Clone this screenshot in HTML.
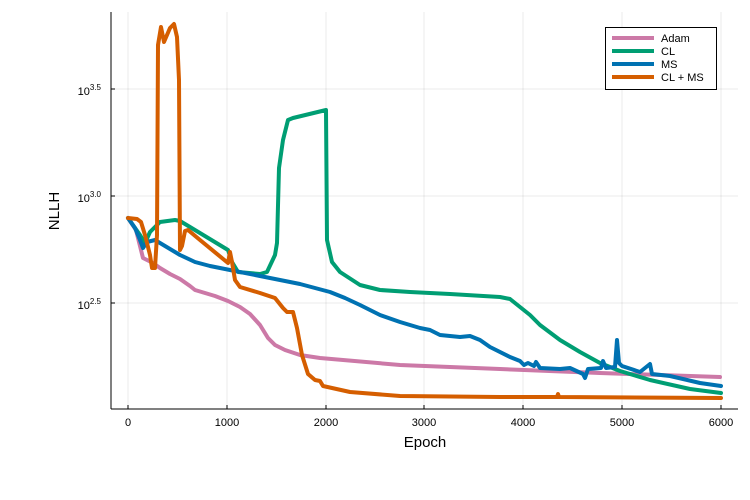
<!DOCTYPE html>
<html><head><style>body{margin:0;background:#fff}svg{display:block;font-family:"Liberation Sans","DejaVu Sans",sans-serif}</style></head><body>
<svg width="750" height="500" viewBox="0 0 750 500">
<g stroke="#000" stroke-opacity="0.08" stroke-width="1">
<line x1="128" y1="12" x2="128" y2="409"/><line x1="227" y1="12" x2="227" y2="409"/><line x1="326" y1="12" x2="326" y2="409"/><line x1="424" y1="12" x2="424" y2="409"/><line x1="523" y1="12" x2="523" y2="409"/><line x1="622" y1="12" x2="622" y2="409"/><line x1="721" y1="12" x2="721" y2="409"/>
<line x1="111" y1="89" x2="738" y2="89"/><line x1="111" y1="196" x2="738" y2="196"/><line x1="111" y1="303" x2="738" y2="303"/>
</g>
<g stroke="#000" stroke-width="1">
<line x1="111" y1="12" x2="111" y2="409"/><line x1="111" y1="409" x2="738" y2="409"/>
<line x1="111" y1="89" x2="115" y2="89"/><line x1="111" y1="196" x2="115" y2="196"/><line x1="111" y1="303" x2="115" y2="303"/>
<line x1="128" y1="409" x2="128" y2="405"/><line x1="227" y1="409" x2="227" y2="405"/><line x1="326" y1="409" x2="326" y2="405"/><line x1="424" y1="409" x2="424" y2="405"/><line x1="523" y1="409" x2="523" y2="405"/><line x1="622" y1="409" x2="622" y2="405"/><line x1="721" y1="409" x2="721" y2="405"/>
</g>
<g font-size="11" text-anchor="middle" fill="#000">
<text x="128" y="426">0</text><text x="227" y="426">1000</text><text x="326" y="426">2000</text><text x="424" y="426">3000</text><text x="523" y="426">4000</text><text x="622" y="426">5000</text><text x="721" y="426">6000</text>
</g>
<g font-size="11" text-anchor="end" fill="#000">
<text x="101" y="95">10<tspan font-size="8" dy="-5">3.5</tspan></text>
<text x="101" y="202">10<tspan font-size="8" dy="-5">3.0</tspan></text>
<text x="101" y="309">10<tspan font-size="8" dy="-5">2.5</tspan></text>
</g>
<text x="425" y="447" font-size="15" text-anchor="middle">Epoch</text>
<text x="59" y="211" font-size="15" text-anchor="middle" transform="rotate(-90 59 211)">NLLH</text>
<g fill="none" stroke-width="4" stroke-linejoin="round" stroke-linecap="round">
<polyline stroke="#cc79a7" points="128,218 136,230 141,250 143,258 153,263 160,268 170,274 180,279 190,286 195,290 205,293 215,296 228,301 240,307 250,314 260,325 268,338 275,345 285,350 300,355 320,358 400,365 500,369 600,373 720,377"/>
<polyline stroke="#009e73" points="128,218 140,235 145,243 150,232 160,222 175,220 180,221 190,227 228,250 232,262 238,272 260,274 267,272 275,255 277,243 279,168 283,140 288,120 293,118 326,110 327,240 332,262 340,272 360,285 380,290 410,292 450,294 500,297 510,299 520,307 530,315 540,325 560,340 580,352 600,363 620,371 650,380 690,389 721,393"/>
<polyline stroke="#0072b2" points="128,218 135,228 140,240 143,248 147,242 155,240 165,246 180,255 195,262 210,266 230,270 260,276 300,284 330,292 345,298 360,305 380,315 400,322 420,328 430,330 440,335 460,337 470,336 480,340 490,347 510,357 520,361 524,365 528,363 534,366 536,362 540,368 560,369 570,368 583,374 585,378 588,369 601,368 603,361 606,368 615,367 617,340 619,363 622,366 640,372 650,364 652,374 670,376 700,383 721,386"/>
<polyline stroke="#d55e00" points="128,218 137,219 141,222 145,235 150,255 152,268 155,268 157,235 158,45 161,27 164,42 170,28 174,24 177,37 179,80 180,250 182,246 185,231 188,230 200,240 228,263 230,252 232,262 235,280 240,287 260,293 275,298 283,308 287,312 293,312 297,328 302,355 308,374 315,380 320,381 323,386 350,392 400,396 500,397 557,397 558,394 559,397 721,398"/>
</g>
<rect x="605.5" y="27.5" width="111" height="62" fill="#fff" stroke="#000" stroke-width="1"/>
<g stroke-width="4">
<line x1="612" y1="38" x2="654" y2="38" stroke="#cc79a7"/>
<line x1="612" y1="51" x2="654" y2="51" stroke="#009e73"/>
<line x1="612" y1="64" x2="654" y2="64" stroke="#0072b2"/>
<line x1="612" y1="77" x2="654" y2="77" stroke="#d55e00"/>
</g>
<g font-size="11" fill="#000">
<text x="661" y="42">Adam</text><text x="661" y="55">CL</text><text x="661" y="68">MS</text><text x="661" y="81">CL + MS</text>
</g>
</svg>
</body></html>
